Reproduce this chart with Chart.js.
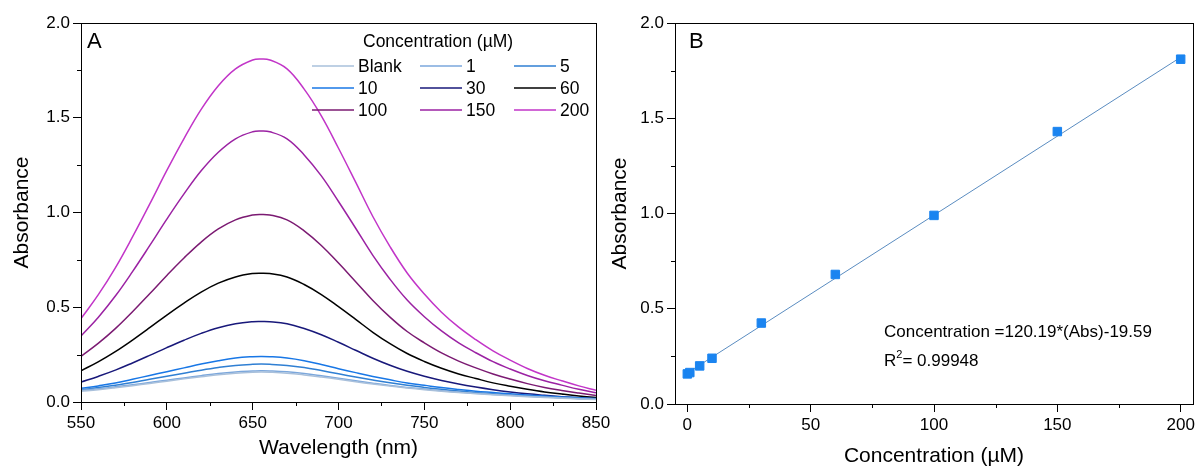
<!DOCTYPE html>
<html>
<head>
<meta charset="utf-8">
<script src="https://cdn.jsdelivr.net/npm/chart.js@4.4.0/dist/chart.umd.min.js"></script>
<style>
    body { margin: 0; background: #fff; overflow: hidden; }
    #wrap { position: relative; width: 1200px; height: 469px; }
    canvas { position: absolute; top: 0; display: block; }
    #specChart { left: 0; }
    #calChart { left: 600px; }
</style>
</head>
<body>
<div id="wrap">
    <canvas id="specChart" width="620" height="469"></canvas>
    <canvas id="calChart" width="600" height="469"></canvas>
</div>
<script>
// ---- Panel A: absorption spectra ----
const wavelengths = [550, 560, 570, 580, 590, 600, 610, 620, 630, 640, 650, 655, 660, 670, 680, 690, 700, 710, 720, 730, 740, 750, 760, 770, 780, 790, 800, 810, 820, 830, 840, 850];
const seriesLabels = ["Blank", "1", "5", "10", "30", "60", "100", "150", "200"];

const absBlank = [0.057, 0.065, 0.075, 0.086, 0.098, 0.110, 0.122, 0.133, 0.144, 0.152, 0.157, 0.158, 0.157, 0.152, 0.143, 0.132, 0.120, 0.107, 0.095, 0.084, 0.074, 0.065, 0.057, 0.050, 0.044, 0.038, 0.033, 0.028, 0.024, 0.020, 0.016, 0.013];
const abs1 = [0.062, 0.070, 0.080, 0.091, 0.103, 0.115, 0.127, 0.139, 0.150, 0.158, 0.163, 0.165, 0.164, 0.159, 0.150, 0.138, 0.125, 0.112, 0.099, 0.087, 0.077, 0.068, 0.060, 0.052, 0.046, 0.040, 0.035, 0.030, 0.026, 0.022, 0.018, 0.015];
const abs5 = [0.065, 0.076, 0.088, 0.103, 0.120, 0.136, 0.152, 0.168, 0.182, 0.193, 0.199, 0.200, 0.199, 0.193, 0.182, 0.166, 0.149, 0.132, 0.116, 0.101, 0.088, 0.077, 0.067, 0.058, 0.050, 0.043, 0.037, 0.032, 0.027, 0.023, 0.019, 0.015];
const abs10 = [0.072, 0.085, 0.100, 0.120, 0.140, 0.160, 0.180, 0.200, 0.218, 0.232, 0.239, 0.240, 0.239, 0.232, 0.218, 0.198, 0.176, 0.155, 0.135, 0.117, 0.100, 0.088, 0.076, 0.066, 0.057, 0.050, 0.043, 0.037, 0.032, 0.027, 0.022, 0.018];
const abs30 = [0.105, 0.135, 0.168, 0.206, 0.246, 0.287, 0.326, 0.362, 0.392, 0.413, 0.424, 0.425, 0.424, 0.413, 0.388, 0.355, 0.315, 0.273, 0.231, 0.194, 0.162, 0.136, 0.114, 0.095, 0.079, 0.065, 0.053, 0.043, 0.035, 0.028, 0.022, 0.017];
const abs60 = [0.165, 0.212, 0.266, 0.327, 0.392, 0.459, 0.522, 0.580, 0.627, 0.660, 0.678, 0.680, 0.678, 0.660, 0.620, 0.567, 0.503, 0.436, 0.368, 0.308, 0.256, 0.214, 0.178, 0.148, 0.124, 0.101, 0.083, 0.067, 0.053, 0.042, 0.032, 0.024];
const abs100 = [0.241, 0.309, 0.387, 0.476, 0.571, 0.668, 0.760, 0.844, 0.913, 0.961, 0.987, 0.990, 0.987, 0.961, 0.903, 0.826, 0.733, 0.635, 0.536, 0.448, 0.372, 0.312, 0.259, 0.216, 0.180, 0.148, 0.121, 0.097, 0.077, 0.061, 0.047, 0.034];
const abs150 = [0.348, 0.446, 0.559, 0.688, 0.825, 0.965, 1.098, 1.220, 1.318, 1.389, 1.426, 1.430, 1.426, 1.389, 1.304, 1.193, 1.058, 0.917, 0.774, 0.648, 0.538, 0.450, 0.375, 0.312, 0.260, 0.213, 0.174, 0.140, 0.112, 0.089, 0.067, 0.049];
const abs200 = [0.440, 0.565, 0.708, 0.871, 1.044, 1.222, 1.390, 1.544, 1.669, 1.758, 1.805, 1.810, 1.805, 1.758, 1.651, 1.510, 1.339, 1.160, 0.979, 0.820, 0.681, 0.570, 0.474, 0.395, 0.329, 0.270, 0.221, 0.177, 0.141, 0.112, 0.085, 0.062];

const waveTicks = [550, 600, 650, 700, 750, 800, 850];
const waveMinor = [575, 625, 675, 725, 775, 825];
const absTicks = [0, 0.5, 1.0, 1.5, 2.0];
const absMinor = [0.25, 0.75, 1.25, 1.75];

// ---- Panel B: calibration ----
const concB = [0, 1, 5, 10, 30, 60, 100, 150, 200];
const absB = [0.158, 0.165, 0.200, 0.240, 0.425, 0.680, 0.990, 1.430, 1.810];
const fitX = [0, 200];
const fitY = [0.163, 1.820];
const concTicks = [0, 50, 100, 150, 200];
const concMinor = [25, 75, 125, 175];
const fitEquation = "Concentration =120.19*(Abs)-19.59";
const fitR2 = "0.99948";

const lineColors = ["#a9c0db", "#7ba7dc", "#2f7fd3", "#1877e6", "#18187a", "#000000", "#7b1a72", "#9b22a3", "#c235c8"];
const FONT = '"Liberation Sans", Arial, sans-serif';

Chart.defaults.font.family = FONT;
Chart.defaults.color = "#000";
Chart.defaults.animation = false;

function xy(xs, ys) {
    return xs.map((v, i) => ({ x: v, y: ys[i] }));
}

function setTicks(list) {
    return scale => { scale.ticks = list.map(v => ({ value: v })); };
}

// box around the plot + minor ticks
function drawFrame(chart, xMinor, yMinor) {
    const { ctx, chartArea: a, scales } = chart;
    ctx.save();
    ctx.strokeStyle = "#000";
    ctx.lineWidth = 1;
    ctx.beginPath();
    xMinor.forEach(v => {
        const px = Math.round(scales.x.getPixelForValue(v)) + 0.5;
        ctx.moveTo(px, a.bottom);
        ctx.lineTo(px, a.bottom + 4);
    });
    yMinor.forEach(v => {
        const py = Math.round(scales.y.getPixelForValue(v)) + 0.5;
        ctx.moveTo(a.left, py);
        ctx.lineTo(a.left - 4, py);
    });
    ctx.stroke();
    ctx.strokeRect(Math.round(a.left) + 0.5, Math.round(a.top) + 0.5, Math.round(a.right - a.left), Math.round(a.bottom - a.top));
    ctx.restore();
}

function axisOptions(min, max, ticks, fmt, titleText, titlePad, isX, boxSize) {
    return {
        type: "linear",
        min: min,
        max: max,
        afterBuildTicks: setTicks(ticks),
        afterFit: scale => {
            if (isX) scale.height = boxSize; else scale.width = boxSize;
        },
        ticks: {
            font: { size: 17 },
            color: "#000",
            padding: 3,
            autoSkip: false,
            maxRotation: 0,
            callback: fmt
        },
        grid: { drawOnChartArea: false, drawTicks: true, tickLength: 8, color: "#000", lineWidth: 1 },
        border: { display: true, color: "#000", width: 1 },
        title: { display: true, text: titleText, font: { size: 21 }, color: "#000", padding: titlePad }
    };
}

// Panel A
const specDatasets = [absBlank, abs1, abs5, abs10, abs30, abs60, abs100, abs150, abs200].map((vals, i) => ({
    label: seriesLabels[i],
    data: xy(wavelengths, vals),
    borderColor: lineColors[i],
    borderWidth: 1.5,
    pointRadius: 0,
    tension: 0.4,
    fill: false
}));

const specPlugin = {
    id: "specDecor",
    afterDraw(chart) {
        drawFrame(chart, waveMinor, absMinor);
        const { ctx, chartArea: a } = chart;
        ctx.save();
        ctx.fillStyle = "#000";
        ctx.font = "22px " + FONT;
        ctx.textBaseline = "alphabetic";
        ctx.fillText("A", a.left + 6, a.top + 25);

        // legend, three columns
        ctx.font = "17.5px " + FONT;
        ctx.textBaseline = "middle";
        ctx.fillText("Concentration (\u00b5M)", 363, 42);
        const colX = [358, 466, 560];
        chart.data.datasets.forEach((ds, i) => {
            const tx = colX[i % 3];
            const ty = 66 + Math.floor(i / 3) * 22;
            ctx.strokeStyle = ds.borderColor;
            ctx.lineWidth = 1.5;
            ctx.beginPath();
            ctx.moveTo(tx - 46, ty);
            ctx.lineTo(tx - 4, ty);
            ctx.stroke();
            ctx.fillText(ds.label, tx, ty + 1);
        });
        ctx.restore();
    }
};

new Chart(document.getElementById("specChart"), {
    type: "line",
    data: { datasets: specDatasets },
    options: {
        responsive: false,
        layout: { padding: { top: 23, right: 24, left: 0, bottom: 0 } },
        plugins: { legend: { display: false }, tooltip: { enabled: false } },
        scales: {
            x: axisOptions(550, 850, waveTicks, v => v, "Wavelength (nm)", { top: 0, bottom: 8 }, true, 67),
            y: axisOptions(0, 2, absTicks, v => v.toFixed(1), "Absorbance", { top: 10, bottom: 0 }, false, 81)
        }
    },
    plugins: [specPlugin]
});

// Panel B
const calPlugin = {
    id: "calDecor",
    afterDraw(chart) {
        drawFrame(chart, concMinor, absMinor);
        const { ctx, chartArea: a } = chart;
        ctx.save();
        ctx.fillStyle = "#000";
        ctx.font = "22px " + FONT;
        ctx.textBaseline = "alphabetic";
        ctx.fillText("B", a.left + 14, a.top + 25);

        ctx.font = "17px " + FONT;
        ctx.fillText(fitEquation, 284, 337);
        ctx.fillText("R", 284, 366);
        const rw = ctx.measureText("R").width;
        ctx.font = "11px " + FONT;
        ctx.fillText("2", 284 + rw, 358);
        const sw = ctx.measureText("2").width;
        ctx.font = "17px " + FONT;
        ctx.fillText("= " + fitR2, 284 + rw + sw, 366);
        ctx.restore();
    }
};

new Chart(document.getElementById("calChart"), {
    type: "scatter",
    data: {
        datasets: [
            {
                label: "Data",
                data: xy(concB, absB),
                pointStyle: "rect",
                pointRadius: 6,
                backgroundColor: "#1a84f0",
                borderColor: "#1a84f0",
                borderWidth: 1,
                showLine: false,
                order: 0
            },
            {
                label: "Fit",
                data: xy(fitX, fitY),
                showLine: true,
                borderColor: "#5a8cc0",
                borderWidth: 1,
                pointRadius: 0,
                order: 1
            }
        ]
    },
    options: {
        responsive: false,
        layout: { padding: { top: 23, right: 7, left: 0, bottom: 0 } },
        plugins: { legend: { display: false }, tooltip: { enabled: false } },
        scales: {
            x: axisOptions(-5, 205, concTicks, v => v, "Concentration (\u00b5M)", { top: 0, bottom: 0 }, true, 65),
            y: axisOptions(0, 2, absTicks, v => v.toFixed(1), "Absorbance", { top: 8, bottom: 0 }, false, 75)
        }
    },
    plugins: [calPlugin]
});
</script>
</body>
</html>
